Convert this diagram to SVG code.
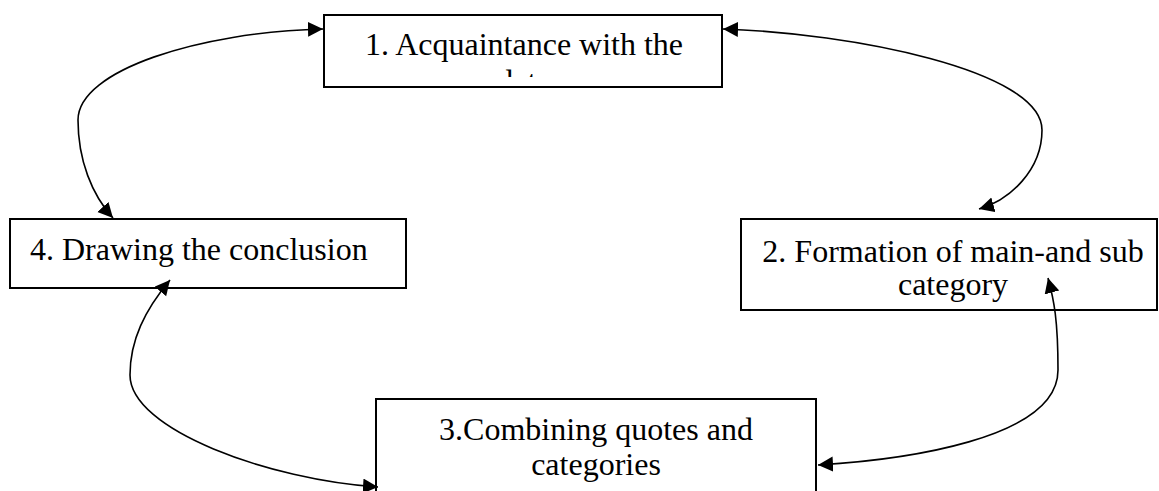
<svg xmlns="http://www.w3.org/2000/svg" width="1159" height="491" viewBox="0 0 1159 491">
  <style>
    .box { fill: #ffffff; stroke: #000000; stroke-width: 2; }
    .lbl { font-family: "Liberation Serif", "Times New Roman", serif; font-size: 32px; fill: #000000; }
    .mid { text-anchor: middle; }
    .conn { fill: none; stroke: #000000; stroke-width: 1.6; marker-start: url(#arr); marker-end: url(#arr); }
  </style>
  <defs>
    <marker id="arr" markerUnits="userSpaceOnUse" markerWidth="16" markerHeight="16" refX="15" refY="7.5" orient="auto-start-reverse">
      <path d="M0,0 L15,7.5 L0,15 z" fill="#000000"/>
    </marker>
    <clipPath id="clip1">
      <rect x="324" y="15" width="398" height="62"/>
    </clipPath>
  </defs>

  <g id="node1">
    <rect class="box" x="324" y="15" width="398" height="72"/>
    <g clip-path="url(#clip1)">
      <text class="lbl mid" x="524" y="55">1. Acquaintance with the</text>
      <text class="lbl mid" x="524" y="92">data</text>
    </g>
  </g>

  <g id="node2">
    <rect class="box" x="741" y="219" width="416" height="91"/>
    <text class="lbl mid" x="953" y="262">2. Formation of main-and sub</text>
    <text class="lbl mid" x="953" y="295">category</text>
  </g>

  <g id="node3">
    <rect class="box" x="376" y="399" width="440" height="120"/>
    <text class="lbl mid" x="596" y="440">3.Combining quotes and</text>
    <text class="lbl mid" x="596" y="475">categories</text>
  </g>

  <g id="node4">
    <rect class="box" x="10" y="219" width="396" height="69"/>
    <text class="lbl" x="30" y="260">4. Drawing the conclusion</text>
  </g>

  <g id="connectors">
    <path class="conn" d="M 113 218 C 92 195, 78 160, 78 120 C 78 70, 200 32, 323 29"/>
    <path class="conn" d="M 723 29 C 850 33, 1042 70, 1042 130 C 1042 170, 1010 200, 979 209"/>
    <path class="conn" d="M 1048 278 C 1054 300, 1058 320, 1058 370 C 1058 440, 900 460, 818 465"/>
    <path class="conn" d="M 378 487 C 270 480, 130 430, 130 375 C 130 340, 145 310, 170 280"/>
  </g>
</svg>
